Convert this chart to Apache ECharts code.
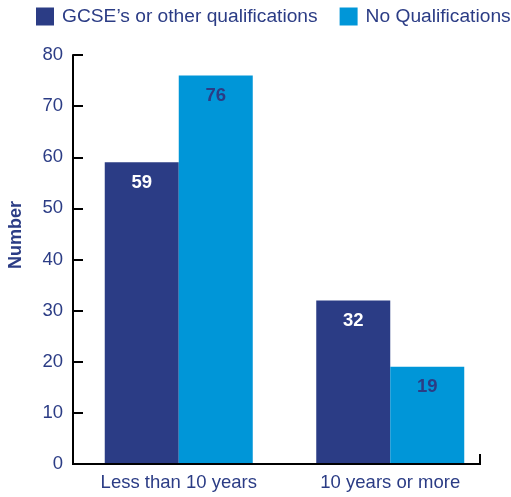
<!DOCTYPE html>
<html>
<head>
<meta charset="utf-8">
<script src="https://cdn.jsdelivr.net/npm/echarts@6/dist/echarts.min.js"></script>
<style>
  html, body { margin: 0; padding: 0; background: #fff; }
  #chart { width: 511px; height: 497px; }
</style>
</head>
<body>
<div id="chart"></div>
<script>
var categories = ['Less than 10 years', '10 years or more'];
var seriesNames = ['GCSE\u2019s or other qualifications', 'No Qualifications'];
var gcseValues = [59, 32];
var noQualValues = [76, 19];
var yTicks = [0, 10, 20, 30, 40, 50, 60, 70, 80];

var navy = '#2b3c85';
var blue = '#0096d8';
var font = 'Liberation Sans, Arial, sans-serif';

var chart = echarts.init(document.getElementById('chart'));

var option = {
  backgroundColor: '#fff',
  animation: false,
  legend: {
    top: 7,
    left: 36,
    padding: 0,
    width: 475,
    itemWidth: 18,
    itemHeight: 18,
    itemGap: 22,
    icon: 'rect',
    data: seriesNames,
    textStyle: { color: navy, fontSize: 19.2, fontFamily: font, padding: [0, 0, 0, 3] }
  },
  grid: { left: 73, right: 15, top: 55, bottom: 33, outerBoundsMode: 'none', containLabel: false },
  xAxis: {
    type: 'category',
    data: categories,
    axisLine: { show: false },
    axisTick: { show: false },
    axisLabel: { color: navy, fontSize: 18.5, fontFamily: font, margin: 9 }
  },
  yAxis: {
    type: 'value',
    min: yTicks[0],
    max: yTicks[yTicks.length - 1],
    interval: 10,
    name: 'Number',
    nameLocation: 'middle',
    nameGap: 48,
    nameTextStyle: { color: navy, fontSize: 18, fontWeight: 'bold', fontFamily: font, padding: [0, 0, 0, 49] },
    axisLine: { show: true, lineStyle: { color: '#000', width: 2 } },
    axisTick: { show: true, inside: true, length: 10, lineStyle: { color: '#000', width: 2 } },
    axisLabel: { color: navy, fontSize: 18.5, fontFamily: font, margin: 10 },
    splitLine: { show: false }
  },
  series: [
    {
      name: seriesNames[0],
      type: 'bar',
      data: gcseValues,
      barWidth: 74,
      barGap: '0%',
      itemStyle: { color: navy },
      label: { show: true, position: 'insideTop', distance: 11, color: '#fff', fontWeight: 'bold', fontSize: 18.5, fontFamily: font }
    },
    {
      name: seriesNames[1],
      type: 'bar',
      data: noQualValues,
      barWidth: 74,
      barGap: '0%',
      itemStyle: { color: blue },
      label: { show: true, position: 'insideTop', distance: 11, color: navy, fontWeight: 'bold', fontSize: 18.5, fontFamily: font }
    }
  ]
};

chart.setOption(option);

// x axis baseline ends short of the grid edge, with an upward end tick
var y0 = chart.convertToPixel({ yAxisIndex: 0 }, 0);
var xStart = 72;
var xEnd = 480;
chart.setOption({
  graphic: [
    {
      type: 'polyline',
      shape: { points: [[xStart, y0], [xEnd, y0], [xEnd, y0 - 10]] },
      style: { stroke: '#000', lineWidth: 2, fill: null },
      z: 10
    }
  ]
});
</script>
</body>
</html>
